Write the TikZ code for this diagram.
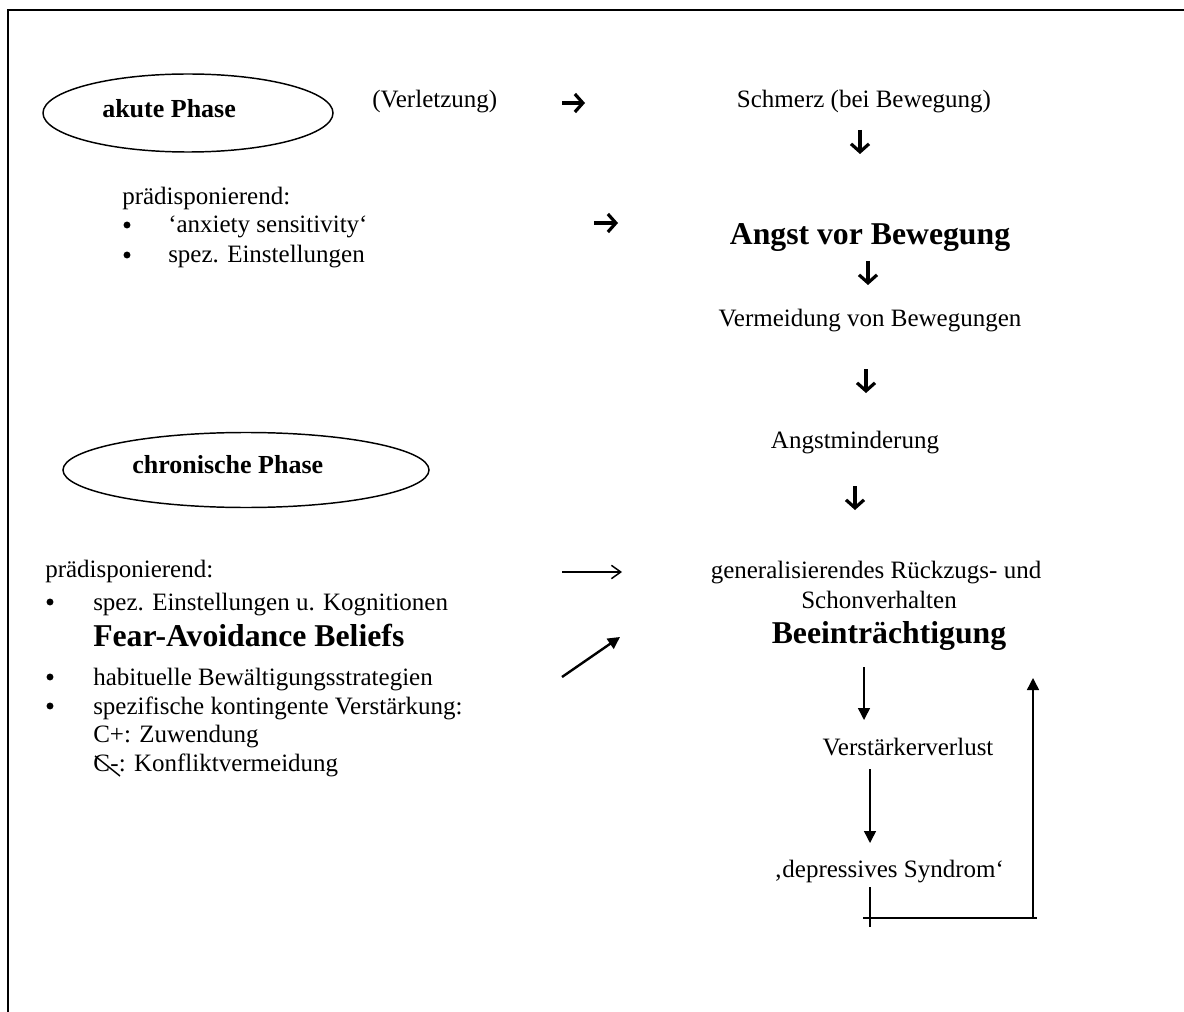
\documentclass[tikz,border=0pt]{standalone}
\usepackage{fontspec}
\setmainfont{Liberation Serif}
\usetikzlibrary{arrows.meta,shapes.geometric,calc}
\begin{document}
\begin{tikzpicture}[x=0.75pt,y=-0.75pt,
  txt/.style={inner sep=0,font=\fontsize{18.75}{22}\selectfont},
  bigtxt/.style={inner sep=0,font=\fontsize{23.8}{28}\selectfont\bfseries},
  phasetxt/.style={inner sep=0,font=\fontsize{19.5}{23}\selectfont\bfseries},
  phase/.style={draw,ellipse,line width=1.1pt,inner sep=0},
  bul/.style={circle,fill,inner sep=0,minimum size=5.2pt},
  wing/.style={line width=2.4pt,-{Straight Barb[length=6pt,width=13.5pt]}},
  thinarr/.style={line width=1.1pt,-{Straight Barb[length=7pt,width=10pt]}},
  tri/.style={line width=1.1pt,-{Triangle[length=9pt,width=9pt]}},
  plain/.style={line width=1.1pt}]
\useasboundingbox (0,0) rectangle (1184,1012);
\fill[white] (0,0) rectangle (1184,1012);
% frame (top and left only)
\draw[line width=1.5pt] (8,1012) -- (8,10) -- (1184,10);

% acute phase
\node[phase,minimum width=217.5pt,minimum height=58.5pt] (akut) at (188,113) {};
\node[phasetxt,anchor=base west] (akuttxt) at (102,118) {akute Phase};
\node[txt,anchor=base west] (verl) at (372,108) {(Verletzung)};
\node[txt,anchor=base] (schmerz) at (864,108) {Schmerz (bei Bewegung)};
\coordinate (w1a) at (562,103); \coordinate (w1b) at (585,103);
\draw[wing] (w1a) -- (w1b);
\coordinate (d1a) at (860,130); \coordinate (d1b) at (860,154);
\draw[wing] (d1a) -- (d1b);

\node[txt,anchor=base west] (prae1) at (122,205) {prädisponierend:};
\node[bul] (b1) at (127,225) {};
\node[txt,anchor=base west] (anx) at (168,233) {‘anxiety sensitivity‘};
\node[bul] (b2) at (127,255) {};
\node[txt,anchor=base west] (einst) at (168,263) {spez. Einstellungen};
\coordinate (w2a) at (594,223); \coordinate (w2b) at (618,223);
\draw[wing] (w2a) -- (w2b);

\node[bigtxt,anchor=base] (angst) at (870,245) {Angst vor Bewegung};
\coordinate (d2a) at (868,261); \coordinate (d2b) at (868,285);
\draw[wing] (d2a) -- (d2b);
\node[txt,anchor=base] (verm) at (870,327) {Vermeidung von Bewegungen};
\coordinate (d3a) at (866,369); \coordinate (d3b) at (866,393);
\draw[wing] (d3a) -- (d3b);
\node[txt,anchor=base] (minder) at (855,448) {Angstminderung};
\coordinate (d4a) at (855,486); \coordinate (d4b) at (855,510);
\draw[wing] (d4a) -- (d4b);

% chronic phase
\node[phase,minimum width=274.5pt,minimum height=56.25pt] (chron) at (246,470) {};
\node[phasetxt,anchor=base west] (chrontxt) at (132,473) {chronische Phase};

\node[txt,anchor=base west] (prae2) at (45,577) {prädisponierend:};
\node[bul] (c1) at (50,602) {};
\node[txt,anchor=base west] (kog) at (93,610) {spez. Einstellungen u. Kognitionen};
\node[bigtxt,anchor=base west] (fab) at (93,646) {Fear-Avoidance Beliefs};
\node[bul] (c2) at (50,677) {};
\node[txt,anchor=base west] (habit) at (93,685) {habituelle Bewältigungsstrategien};
\node[bul] (c3) at (50,706) {};
\node[txt,anchor=base west] (spezif) at (93,714) {spezifische kontingente Verstärkung:};
\node[txt,anchor=base west] (cplus) at (93,742) {C+: Zuwendung};
\node[txt,anchor=base west] (cminC) at (93,771) {C};
\node[txt,anchor=base west] (cmin) at (cminC.base east) {-: Konfliktvermeidung};
\draw[plain] ($(cminC.base west)+(2,-15)$) -- ($(cminC.base west)+(27,5)$);

\coordinate (h1a) at (562,572); \coordinate (h1b) at (622,572);
\draw[thinarr] (h1a) -- (h1b);
\coordinate (g1a) at (562,677); \coordinate (g1b) at (620,637);
\draw[tri,line width=1.8pt] (g1a) -- (g1b);

% right column
\node[txt,anchor=base] (gen1) at (876,578) {generalisierendes Rückzugs- und};
\node[txt,anchor=base] (gen2) at (879,608) {Schonverhalten};
\node[bigtxt,anchor=base] (beein) at (889,643) {Beeinträchtigung};
\node[txt,anchor=base] (vv) at (908,755) {Verstärkerverlust};
\node[txt,anchor=base] (dep) at (889,877) {‚depressives Syndrom‘};

\coordinate (v1a) at (864,667); \coordinate (v1b) at (864,720);
\draw[tri] (v1a) -- (v1b);
\coordinate (v2a) at (870,769); \coordinate (v2b) at (870,843);
\draw[tri] (v2a) -- (v2b);
\coordinate (l1) at (870,887); \coordinate (l2) at (870,927);
\draw[plain] (l1) -- (l2);
\coordinate (l3) at (863,918); \coordinate (l4) at (1037,918);
\draw[plain] (l3) -- (l4);
\coordinate (l5) at (1033,918); \coordinate (l6) at (1033,678);
\draw[tri] (l5) -- (l6);
\end{tikzpicture}
\end{document}
